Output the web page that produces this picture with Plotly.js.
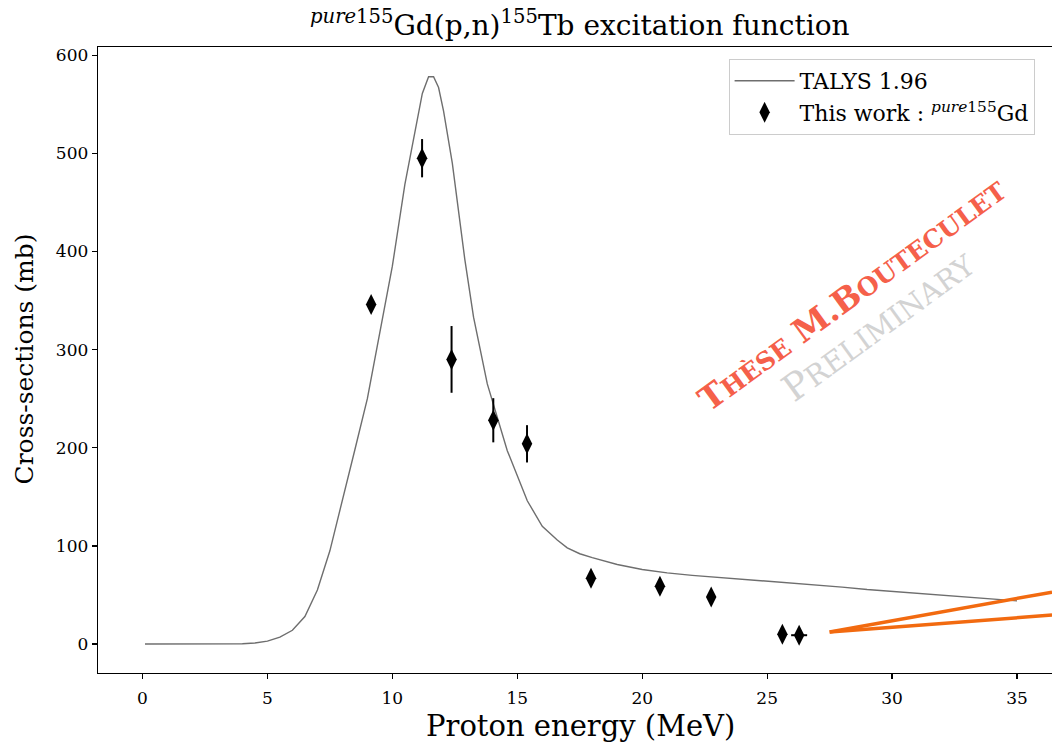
<!DOCTYPE html>
<html>
<head>
<meta charset="utf-8">
<script src="https://cdn.plot.ly/plotly-3.0.1.min.js"></script>
<style>html,body{margin:0;padding:0;background:#fff;}#chart{width:1052px;height:744px;}</style>
</head>
<body>
<div id="chart"></div>
<script>
// TALYS 1.96 calculation
const talysE = [0.1, 1, 2, 3, 4, 4.5, 5, 5.5, 6, 6.5, 7, 7.5, 8, 8.5, 9, 9.5, 10, 10.5, 11, 11.2, 11.45, 11.65, 11.85, 12.05, 12.4, 12.9, 13.25, 13.8, 14.6, 15.4, 16, 16.6, 17, 17.5, 18, 19, 20, 21, 22, 23, 24, 25, 26, 27, 28, 29, 30, 31, 32, 33, 34, 35];
const talysXS = [0, 0, 0, 0, 0.3, 1, 3, 7, 14, 28, 55, 95, 145, 198, 250, 318, 385, 468, 537, 561, 578, 578, 567, 543, 490, 392, 333, 265, 197, 146, 120, 106, 98, 92, 88, 81, 76, 72.5, 70, 68, 66, 64.5, 62, 60.5, 58, 55.5, 53.5, 51.5, 49.5, 47.5, 45.5, 44];

// This work : pure 155Gd
const expE = [9.15, 11.19, 12.37, 14.04, 15.39, 17.95, 20.71, 22.76, 25.61, 26.28];
const expXS = [346, 495, 290, 228, 204, 67, 59, 48, 10, 9];
const expXSerr = [6, 19.5, 34, 22.5, 19, 4, 4, 4, 4, 4];
const expEerr = [0, 0, 0, 0, 0, 0, 0, 0, 0, 0.32];

// Orange lines
const orangeE1 = [27.5, 36.4];
const orangeXS1 = [12.2, 52.9];
const orangeE2 = [27.5, 36.4];
const orangeXS2 = [12.2, 29.5];

const xTicks = [0, 5, 10, 15, 20, 25, 30, 35];
const yTicks = [0, 100, 200, 300, 400, 500, 600];

const serif = 'DejaVu Serif, serif';

const traces = [
  {x: talysE, y: talysXS, type: 'scatter', mode: 'lines', name: 'TALYS 1.96',
   line: {color: '#6e6e6e', width: 1.4}},
  {x: expE, y: expXS, type: 'scatter', mode: 'markers', name: 'This work : <sup><i>pure</i>155</sup>Gd',
   marker: {symbol: 'diamond-tall', size: 15, color: '#000'},
   error_y: {type: 'data', array: expXSerr, visible: true, color: '#000', thickness: 2, width: 0},
   error_x: {type: 'data', array: expEerr, visible: true, color: '#000', thickness: 2, width: 0}},
  {x: orangeE1, y: orangeXS1, type: 'scatter', mode: 'lines', showlegend: false,
   line: {color: '#f26a10', width: 3.5}},
  {x: orangeE2, y: orangeXS2, type: 'scatter', mode: 'lines', showlegend: false,
   line: {color: '#f26a10', width: 3.5}}
];

const layout = {
  width: 1052, height: 744,
  margin: {l: 98, r: 0, t: 47, b: 71},
  paper_bgcolor: '#fff', plot_bgcolor: '#fff',
  font: {family: serif, color: '#000'},
  title: {text: '<sup><i>pure</i>155</sup>Gd(p,n)<sup>155</sup>Tb excitation function',
          font: {family: serif, size: 28, color: '#000'},
          x: 0.505, xref: 'paper', xanchor: 'center', y: 0.966, yref: 'container', yanchor: 'middle'},
  xaxis: {range: [-1.78, 36.4], tickvals: xTicks, ticktext: xTicks.map(String),
          showgrid: false, zeroline: false, showline: true, linecolor: '#000', linewidth: 1.3, mirror: true,
          ticks: 'outside', ticklen: 5, tickwidth: 1.2, tickcolor: '#000', ticklabelstandoff: 4,
          tickfont: {family: serif, size: 17}},
  yaxis: {range: [-29.5, 608.3], tickvals: yTicks, ticktext: yTicks.map(String),
          showgrid: false, zeroline: false, showline: true, linecolor: '#000', linewidth: 1.3,
          ticks: 'outside', ticklen: 5, tickwidth: 1.2, tickcolor: '#000',
          tickfont: {family: serif, size: 17}},
  legend: {x: 0.661, y: 0.981, xanchor: 'left', yanchor: 'top',
           bgcolor: 'rgba(255,255,255,0.8)', bordercolor: '#cccccc', borderwidth: 1,
           font: {family: serif, size: 22}, tracegroupgap: 2, itemwidth: 60},
  showlegend: true,
  annotations: [
    {xref: 'paper', yref: 'paper', x: (580 - 98) / 954, y: (673 - 726) / 627, xanchor: 'center', yanchor: 'middle',
     text: 'Proton energy (MeV)', showarrow: false, borderpad: 0, font: {family: serif, size: 29, color: '#000'}},
    {xref: 'paper', yref: 'paper', x: (25 - 98) / 954, y: (673 - 359) / 627, xanchor: 'center', yanchor: 'middle',
     text: 'Cross-sections (mb)', showarrow: false, borderpad: 0, textangle: -90, font: {family: serif, size: 25, color: '#000'}},
    {xref: 'paper', yref: 'paper', x: (852 - 98) / 954, y: (673 - 294) / 627, xanchor: 'center', yanchor: 'middle',
     text: '<b>T<span style="font-size:25px">HÈSE</span> M.B<span style="font-size:25px">OUTECULET</span></b>',
     showarrow: false, textangle: -36, font: {family: serif, size: 33, color: '#f5604a'}},
    {xref: 'paper', yref: 'paper', x: (878 - 98) / 954, y: (673 - 326) / 627, xanchor: 'center', yanchor: 'middle',
     text: 'P<span style="font-size:29px">RELIMINARY</span>',
     showarrow: false, textangle: -36, font: {family: serif, size: 37, color: '#d3d3d3'}}
  ]
};

Plotly.newPlot('chart', traces, layout, {displayModeBar: false, staticPlot: true});
</script>
</body>
</html>
